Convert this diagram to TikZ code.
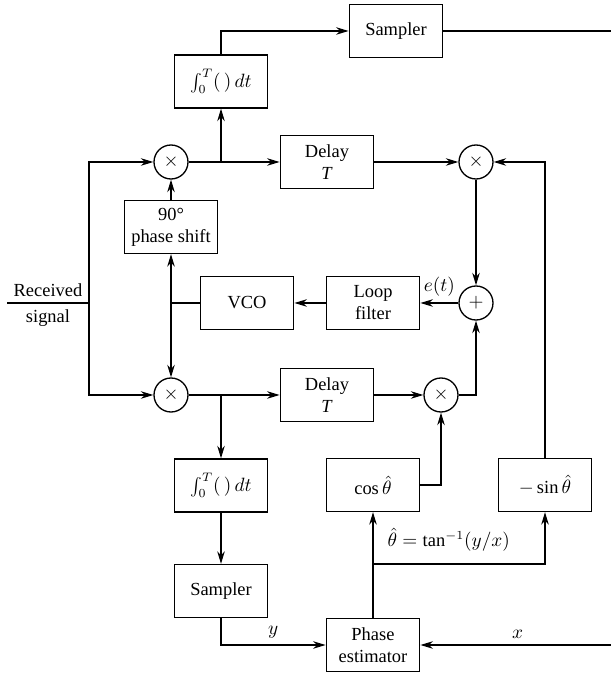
\documentclass[tikz,border=0pt]{standalone}
\usepackage{fontspec}
\setmainfont{Liberation Serif}
\usetikzlibrary{arrows.meta, calc}

\begin{document}
\begin{tikzpicture}[>={Stealth[length=2.5mm, width=1.5mm]}, line width=0.75pt,
  font=\fontsize{10.5}{12.5}\selectfont,
  block/.style={draw, rectangle, minimum width=1.87cm, minimum height=1.06cm, align=center, inner sep=1pt},
  mult/.style={draw, circle, minimum size=0.68cm, inner sep=0pt}]
  \useasboundingbox (0,0) rectangle (12.2,13.46);
  % upper branch
  \node[block] (samp1) at (7.92,12.84) {Sampler};
  \node[block] (int1) at (4.42,11.83) {$\int_0^T(\,)\,dt$};
  \node[mult] (mul1) at (3.42,10.22) {$\times$};
  \node[block] (delay1) at (6.54,10.22) {Delay\\\textit{T}};
  \node[mult] (mul3) at (9.52,10.22) {$\times$};
  \node[block] (shift) at (3.42,8.92) {90°\\phase shift};
  % loop
  \node[mult] (plus) at (9.52,7.40) {$+$};
  \node[block] (loop) at (7.46,7.40) {Loop\\filter};
  \node[block] (vco) at (4.94,7.40) {VCO};
  % lower branch
  \node[mult] (mul2) at (3.42,5.56) {$\times$};
  \node[block] (delay2) at (6.54,5.56) {Delay\\\textit{T}};
  \node[mult] (mul4) at (8.82,5.56) {$\times$};
  \node[block] (int2) at (4.42,3.75) {$\int_0^T(\,)\,dt$};
  \node[block] (samp2) at (4.42,1.64) {Sampler};
  \node[block] (cosb) at (7.46,3.76) {$\cos\hat\theta$};
  \node[block] (sinb) at (10.9,3.76) {$-\sin\hat\theta$};
  \node[block] (est) at (7.46,0.56) {Phase\\estimator};
  \coordinate (in) at (0.14,7.40);
  \coordinate (split) at (1.78,7.40);
  \coordinate (ret) at (12.3,0.56);
  \coordinate (br) at (7.46,2.18);

  \draw (in) -- (split) node[midway, above]{Received} node[midway, below]{signal};
  \draw[->] (split) |- (mul1);
  \draw[->] (split) |- (mul2);
  \draw[->] (mul1) -- (delay1);
  \draw[->] (int1.south |- mul1) -- (int1);
  \draw[->] (int1) |- (samp1);
  \draw[->] (samp1) -- (samp1 -| ret) -- (ret) -- (est) node[pos=0.5, above]{$x$};
  \draw[->] (delay1) -- (mul3);
  \draw[->] (sinb) |- (mul3);
  \draw[->] (mul3) -- (plus);
  \draw[->] (plus) -- (loop) node[midway, above]{$e(t)$};
  \draw[->] (loop) -- (vco);
  \draw (vco) -- (vco -| shift);
  \draw[->] (shift) -- (mul1);
  \draw[<->] (shift) -- (mul2);
  \draw[->] (mul2) -- (delay2);
  \draw[->] (int2.north |- mul2) -- (int2);
  \draw[->] (delay2) -- (mul4);
  \draw[->] (mul4) -| (plus);
  \draw[->] (cosb) -| (mul4);
  \draw[->] (int2) -- (samp2);
  \draw[->] (samp2) |- (est) node[pos=0.75, above]{$y$};
  \draw[->] (est) -- (cosb);
  \draw[->] (br) -| (sinb);
  \node[anchor=west] (thlab) at (7.62,2.66) {$\hat\theta=\tan^{-1}(y/x)$};
\end{tikzpicture}
\end{document}
